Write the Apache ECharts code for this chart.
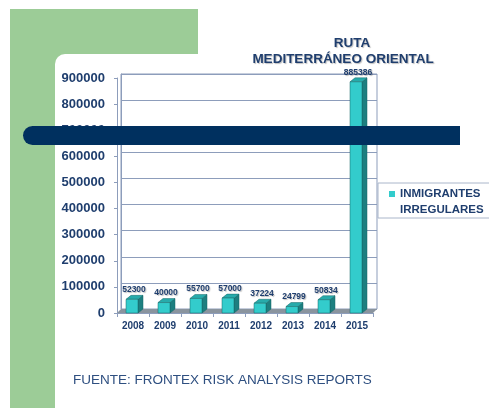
<!DOCTYPE html>
<html>
<head>
<meta charset="utf-8">
<script src="https://cdn.jsdelivr.net/npm/echarts@6/dist/echarts.min.js"></script>
<style>
html, body { margin: 0; padding: 0; background: #fff; }
#chart { width: 489px; height: 408px; }
</style>
</head>
<body>
<div id="chart"></div>
<script>
// datos
var years = ['2008', '2009', '2010', '2011', '2012', '2013', '2014', '2015'];
var migrants = [52300, 40000, 55700, 57000, 37224, 24799, 50834, 885386];
var yTicks = [0, 100000, 200000, 300000, 400000, 500000, 600000, 700000, 800000, 900000];
var seriesName = 'INMIGRANTES\nIRREGULARES';

var navy = '#1f3e6e';
var gridLine = '#8d9dbb';
var fontFam = '"Liberation Sans", Arial, sans-serif';
var shadow = {
  textShadowColor: 'rgba(0,0,0,0.25)',
  textShadowBlur: 1,
  textShadowOffsetX: 1,
  textShadowOffsetY: 1
};

// posicion del area de trazado (frente y pared del fondo)
var plotLeft = 117, plotTop = 78, plotW = 256, plotH = 235;
var depthX = 4, depthY = 4;

function renderBar (params, api) {
  var top = api.coord([api.value(0), api.value(1)]);
  var base = api.coord([api.value(0), 0]);
  var w = 12, d = 5, h = 4;
  var x0 = top[0] - w / 2 - 1;
  var x1 = x0 + w;
  return {
    type: 'group',
    children: [{
      type: 'polygon',
      shape: { points: [[x1, top[1]], [x1 + d, top[1] - h], [x1 + d, base[1] - h], [x1, base[1]]] },
      style: { fill: '#1d7f80', stroke: '#176767', lineWidth: 0.5 }
    }, {
      type: 'polygon',
      shape: { points: [[x0, top[1]], [x0 + d, top[1] - h], [x1 + d, top[1] - h], [x1, top[1]]] },
      style: { fill: '#27abab', stroke: '#176767', lineWidth: 0.5 }
    }, {
      type: 'rect',
      shape: { x: x0, y: top[1], width: w, height: base[1] - top[1] },
      style: { fill: '#33cccc', stroke: '#176767', lineWidth: 0.5 }
    }, {
      type: 'text',
      style: Object.assign({
        text: String(api.value(1)),
        x: top[0] + 1,
        y: top[1] - h - 1,
        align: 'center',
        verticalAlign: 'bottom',
        font: 'bold 8.5px ' + fontFam,
        fill: navy
      }, shadow)
    }]
  };
}

var chart = echarts.init(document.getElementById('chart'));

var titleStyle = Object.assign({
  fontFamily: fontFam,
  fontWeight: 'bold',
  fontSize: 13.5,
  color: navy
}, shadow);

var option = {
  backgroundColor: '#fff',
  animation: false,
  title: [{
    text: 'RUTA',
    left: 352,
    top: 36,
    textAlign: 'center',
    padding: 0,
    textStyle: titleStyle
  }, {
    text: 'MEDITERRÁNEO ORIENTAL',
    left: 343,
    top: 52,
    textAlign: 'center',
    padding: 0,
    textStyle: titleStyle
  }],
  legend: {
    data: [seriesName],
    orient: 'vertical',
    left: 389,
    top: 170,
    padding: 0,
    icon: 'rect',
    itemWidth: 6,
    itemHeight: 6,
    selectedMode: false,
    formatter: function (name) {
      // linea vacia para alinear el icono con la primera linea
      return ' \n' + name;
    },
    textStyle: {
      fontFamily: fontFam,
      fontWeight: 'bold',
      fontSize: 11.5,
      lineHeight: 16,
      color: navy
    }
  },
  grid: [{
    left: plotLeft,
    top: plotTop,
    width: plotW,
    height: plotH
  }, {
    left: plotLeft + depthX,
    top: plotTop - depthY,
    width: plotW,
    height: plotH,
    show: true,
    borderColor: gridLine,
    borderWidth: 1,
    backgroundColor: '#fff'
  }],
  xAxis: [{
    gridIndex: 0,
    type: 'category',
    data: years,
    axisLine: { lineStyle: { color: gridLine } },
    axisTick: { show: true, length: 4, lineStyle: { color: gridLine } },
    axisLabel: {
      margin: 8,
      fontFamily: fontFam,
      fontWeight: 'bold',
      fontSize: 10,
      color: navy
    }
  }, {
    gridIndex: 1,
    type: 'category',
    data: years,
    show: false
  }],
  yAxis: [{
    gridIndex: 0,
    type: 'value',
    min: yTicks[0],
    max: yTicks[yTicks.length - 1],
    interval: yTicks[1] - yTicks[0],
    splitLine: { show: false },
    axisLine: { show: true, lineStyle: { color: gridLine } },
    axisTick: { show: true, length: 3, lineStyle: { color: gridLine } },
    axisLabel: {
      margin: 12,
      formatter: function (v) { return String(v); },
      fontFamily: fontFam,
      fontWeight: 'bold',
      fontSize: 13,
      color: navy
    }
  }, {
    gridIndex: 1,
    type: 'value',
    min: yTicks[0],
    max: yTicks[yTicks.length - 1],
    interval: yTicks[1] - yTicks[0],
    axisLabel: { show: false },
    axisTick: { show: false },
    axisLine: { show: true, lineStyle: { color: gridLine } },
    splitLine: { show: true, lineStyle: { color: gridLine, width: 1 } }
  }],
  series: [{
    name: seriesName,
    type: 'custom',
    xAxisIndex: 0,
    yAxisIndex: 0,
    z: 5,
    itemStyle: { color: '#33cccc' },
    renderItem: renderBar,
    data: years.map(function (y, i) { return [i, migrants[i]]; })
  }],
  graphic: [
    // fondo verde y panel blanco
    { type: 'rect', z: -10, shape: { x: 10, y: 9, width: 188, height: 60 }, style: { fill: '#9ccc97' } },
    { type: 'rect', z: -10, shape: { x: 10, y: 9, width: 45, height: 399 }, style: { fill: '#9ccc97' } },
    { type: 'rect', z: -9, shape: { x: 55, y: 54, width: 440, height: 360, r: [10, 0, 0, 0] }, style: { fill: '#fff' } },
    // suelo gris
    {
      type: 'polygon',
      z: 1,
      shape: {
        points: [
          [plotLeft, plotTop + plotH],
          [plotLeft + depthX, plotTop + plotH - depthY],
          [plotLeft + plotW + depthX, plotTop + plotH - depthY],
          [plotLeft + plotW, plotTop + plotH]
        ]
      },
      style: { fill: '#8a949e' }
    },
    // caja de la leyenda
    { type: 'rect', z: 1, shape: { x: 378, y: 183, width: 120, height: 35 }, style: { fill: 'none', stroke: '#aab6ca', lineWidth: 1 } },
    // franja azul
    { type: 'rect', z: 50, shape: { x: 23, y: 126, width: 437, height: 19, r: [9.5, 0, 0, 9.5] }, style: { fill: '#00305f' } },
    // fuente
    {
      type: 'text',
      z: 5,
      left: 73,
      top: 373,
      style: {
        text: 'FUENTE: FRONTEX RISK ANALYSIS REPORTS',
        font: '13.5px ' + fontFam,
        fill: '#2e4f80'
      }
    }
  ]
};

chart.setOption(option);
</script>
</body>
</html>
